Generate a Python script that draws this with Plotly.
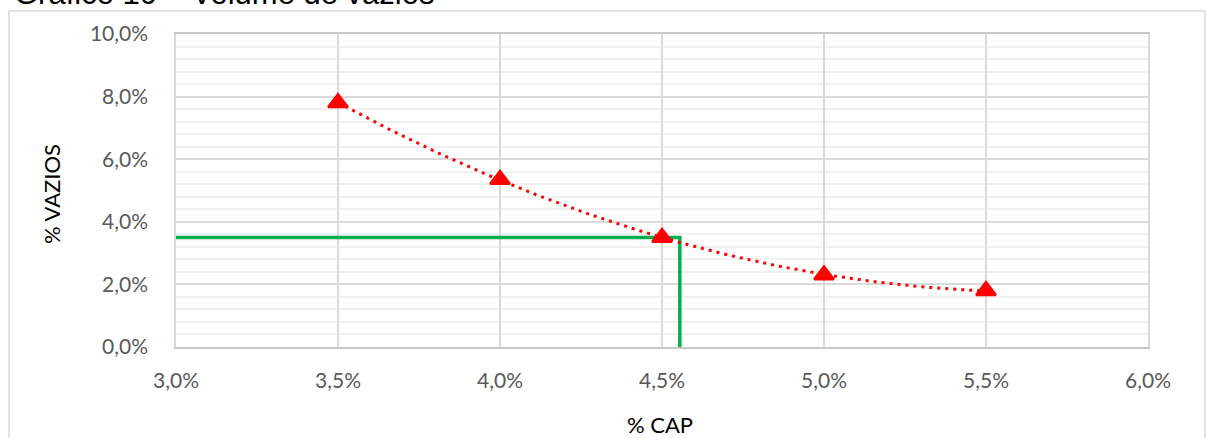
import numpy as np
import plotly.graph_objects as go

# Asphalt content (% CAP) vs air voids (% VAZIOS)
cap_pct = [3.5, 4.0, 4.5, 5.0, 5.5]
vazios_pct = [7.8, 5.35, 3.5, 2.3, 1.8]

# Reading lines for the design air-void content
design_x = [3.0, 4.555, 4.555]
design_y = [3.5, 3.5, 0.0]

x_ticks = [3.0, 3.5, 4.0, 4.5, 5.0, 5.5, 6.0]
x_labels = ["3,0%", "3,5%", "4,0%", "4,5%", "5,0%", "5,5%", "6,0%"]
y_ticks = [0, 2, 4, 6, 8, 10]
y_labels = ["0,0%", "2,0%", "4,0%", "6,0%", "8,0%", "10,0%"]

title_text = "Gráfico 10 – Volume de vazios"
x_title = "% CAP"
y_title = "% VAZIOS"

W, H = 1206, 438
L, R, T, B = 176, 58, 34, 91
pw, ph = W - L - R, H - T - B


def px_x(p):
    return (p - L) / pw


def px_y(p):
    return (H - B - p) / ph


# second-order polynomial trendline through the measured points
coef = np.polyfit(cap_pct, vazios_pct, 2)
trend_x = np.linspace(min(cap_pct), max(cap_pct), 200)
trend_y = np.polyval(coef, trend_x)

fig = go.Figure()
fig.add_trace(go.Scatter(
    x=design_x, y=design_y, mode="lines",
    line=dict(color="#00b050", width=3.5), hoverinfo="skip", showlegend=False,
))
fig.add_trace(go.Scatter(
    x=trend_x, y=trend_y, mode="lines",
    line=dict(color="#ff0000", width=3, dash="3px,5px"), hoverinfo="skip", showlegend=False,
))
fig.add_trace(go.Scatter(
    x=cap_pct, y=vazios_pct, mode="markers",
    marker=dict(symbol="triangle-up", size=17, color="#ff0000",
                line=dict(color="#ff0000", width=2.5)),
    showlegend=False,
))

tick_font = dict(family="Lato", size=21, color="#595959")

fig.update_xaxes(
    range=[3.0, 6.0], tickvals=x_ticks, ticktext=x_labels,
    showgrid=True, gridcolor="#d9d9d9", gridwidth=1.5,
    showline=True, linecolor="#c8c8c8", linewidth=1.5, mirror=True,
    ticks="", ticklabelstandoff=14, tickfont=tick_font, zeroline=False,
)
fig.update_yaxes(
    range=[0, 10], tickvals=y_ticks, ticktext=y_labels,
    showgrid=True, gridcolor="#d9d9d9", gridwidth=1.5,
    minor=dict(dtick=0.4, showgrid=True, gridcolor="#f0f0f0", gridwidth=1.5),
    showline=True, linecolor="#d9d9d9", linewidth=1.5, mirror=True,
    ticks="", ticklabelstandoff=22, tickfont=tick_font, zeroline=False,
)

fig.update_layout(
    width=W, height=H,
    margin=dict(l=L, r=R, t=T, b=B),
    paper_bgcolor="white", plot_bgcolor="white",
    shapes=[dict(
        type="rect", xref="paper", yref="paper",
        x0=px_x(9), x1=px_x(1205), y0=px_y(460), y1=px_y(11),
        line=dict(color="#d9d9d9", width=1.5), fillcolor="rgba(0,0,0,0)", layer="below",
    )],
    annotations=[
        dict(text=title_text, xref="paper", yref="paper", x=px_x(12), y=px_y(13),
             xanchor="left", yanchor="bottom", showarrow=False,
             font=dict(family="Liberation Sans", size=31, color="#000000")),
        dict(text=x_title, xref="paper", yref="paper", x=px_x(660), y=px_y(425),
             xanchor="center", yanchor="middle", showarrow=False,
             font=dict(family="Lato", size=22, color="#000000")),
        dict(text=y_title, xref="paper", yref="paper", x=px_x(51), y=px_y(194),
             xanchor="center", yanchor="middle", showarrow=False, textangle=-90,
             font=dict(family="Lato", size=22, color="#000000")),
    ],
)

fig.write_html("out.html")
